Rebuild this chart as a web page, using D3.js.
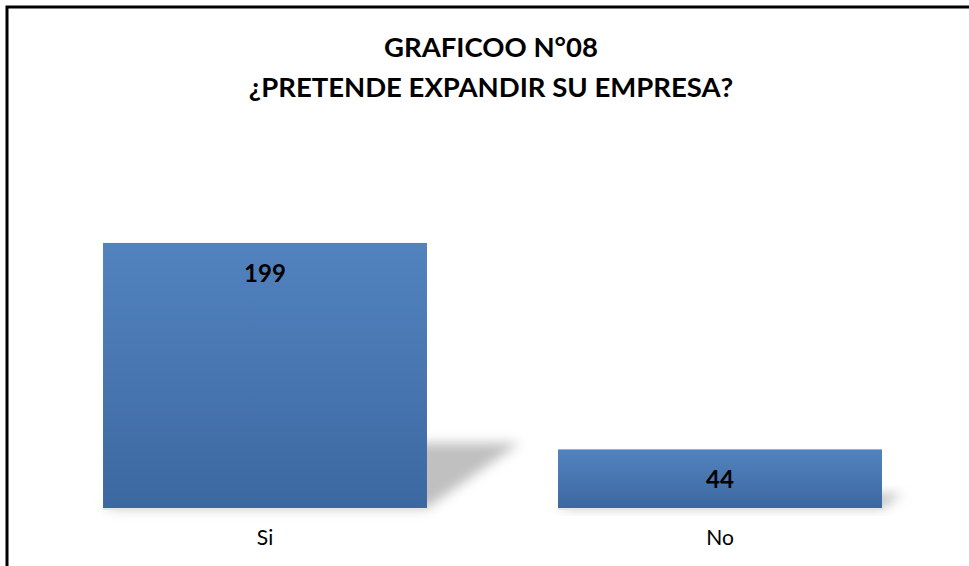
<!DOCTYPE html>
<html>
<head>
<meta charset="utf-8">
<script src="https://cdn.jsdelivr.net/npm/d3@7"></script>
<style>
  body { margin: 0; background: #fff; }
  text { font-family: Lato, "Open Sans", sans-serif; }
</style>
</head>
<body>
<script>
var categorias = ["Si", "No"];
var valores = [199, 44];
var titulo = ["GRAFICOO N°08", "¿PRETENDE EXPANDIR SU EMPRESA?"];

var w = 969;
var h = 566;

var svg = d3.select("body")
    .append("svg")
    .attr("width", w)
    .attr("height", h);

var defs = svg.append("defs");

var grad = defs.append("linearGradient")
    .attr("id", "azul")
    .attr("x1", 0).attr("y1", 0)
    .attr("x2", 0).attr("y2", 1);
grad.append("stop").attr("offset", "0%").attr("stop-color", "#5283bf");
grad.append("stop").attr("offset", "100%").attr("stop-color", "#3c68a0");

defs.append("filter")
    .attr("id", "difuso")
    .attr("x", "-20%").attr("y", "-50%")
    .attr("width", "140%").attr("height", "200%")
    .append("feGaussianBlur")
    .attr("stdDeviation", 6);

// marco
svg.append("rect")
    .attr("x", 7)
    .attr("y", 7)
    .attr("width", 1200)
    .attr("height", 800)
    .attr("fill", "none")
    .attr("stroke", "#000")
    .attr("stroke-width", 3);

var x = d3.scaleBand()
    .domain(categorias)
    .range([37.5, 947.5])
    .paddingInner(0.288)
    .paddingOuter(0.144);

var y = d3.scaleLinear()
    .domain([0, 250])
    .range([508, 175]);

// sombras
svg.selectAll("polygon.sombra")
    .data(valores)
    .enter()
    .append("polygon")
    .attr("class", "sombra")
    .attr("fill", "#c0c0c0")
    .attr("filter", "url(#difuso)")
    .attr("points", function(d, i) {
        var x0 = x(categorias[i]);
        var x1 = x0 + x.bandwidth();
        var alto = y(0) - y(d);
        var dx = alto * 0.35;
        var dy = alto * 0.245;
        return [[x0, y(0)], [x1, y(0)], [x1 + dx, y(0) - dy], [x0 + dx, y(0) - dy]].join(" ");
    });

// linea clara bajo las barras
svg.selectAll("rect.base")
    .data(valores)
    .enter()
    .append("rect")
    .attr("class", "base")
    .attr("x", function(d, i) { return x(categorias[i]); })
    .attr("y", y(0))
    .attr("width", x.bandwidth() + 2)
    .attr("height", 2)
    .attr("fill", "#e6e6e6");

svg.selectAll("rect.barra")
    .data(valores)
    .enter()
    .append("rect")
    .attr("class", "barra")
    .attr("x", function(d, i) { return x(categorias[i]); })
    .attr("y", function(d) { return y(d); })
    .attr("width", x.bandwidth())
    .attr("height", function(d) { return y(0) - y(d); })
    .attr("fill", "url(#azul)");

svg.selectAll("text.valor")
    .data(valores)
    .enter()
    .append("text")
    .attr("class", "valor")
    .text(function(d) { return d; })
    .attr("x", function(d, i) { return x(categorias[i]) + x.bandwidth() / 2; })
    .attr("y", function(d) { return y(d) + 39; })
    .attr("text-anchor", "middle")
    .attr("font-size", 24)
    .attr("font-weight", "bold")
    .attr("fill", "#000");

svg.selectAll("text.cat")
    .data(categorias)
    .enter()
    .append("text")
    .attr("class", "cat")
    .text(function(d) { return d; })
    .attr("x", function(d) { return x(d) + x.bandwidth() / 2; })
    .attr("y", 545)
    .attr("text-anchor", "middle")
    .attr("font-size", 21)
    .attr("fill", "#000");

svg.selectAll("text.titulo")
    .data(titulo)
    .enter()
    .append("text")
    .attr("class", "titulo")
    .text(function(d) { return d; })
    .attr("x", 491)
    .attr("y", function(d, i) { return 57 + i * 40; })
    .attr("text-anchor", "middle")
    .attr("font-size", 27.5)
    .attr("font-weight", "bold")
    .attr("fill", "#000");
</script>
</body>
</html>
